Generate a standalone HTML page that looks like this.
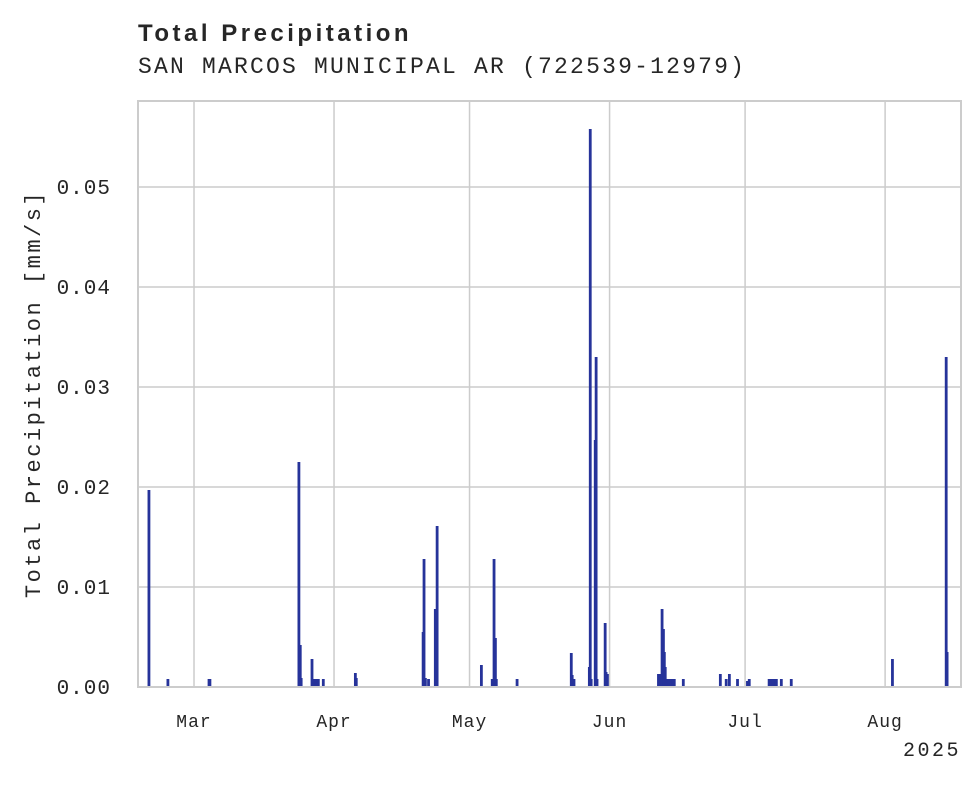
<!DOCTYPE html>
<html><head><meta charset="utf-8"><style>
body{margin:0;background:#fff;}
svg text{fill:#262626;}
</style></head><body>
<svg width="980" height="783" xmlns="http://www.w3.org/2000/svg">
<text x="138" y="41" font-family="Liberation Sans, sans-serif" font-weight="bold" font-size="24" letter-spacing="3.5">Total Precipitation</text>
<text x="138" y="73" font-family="Liberation Mono, monospace" font-size="23" letter-spacing="2.2">SAN MARCOS MUNICIPAL AR (722539-12979)</text>
<g id="grid"></g>
<g id="bars"></g>
<rect x="138" y="101" width="823" height="586" fill="none" stroke="#cccccc" stroke-width="2"/>
<g id="labels"></g>
<text transform="translate(40,394) rotate(-90)" text-anchor="middle" font-family="Liberation Mono, monospace" font-size="22" letter-spacing="2.5">Total Precipitation [mm/s]</text>
<text x="961" y="756" text-anchor="end" font-family="Liberation Mono, monospace" font-size="20" letter-spacing="2.5">2025</text>
</svg>
<script>
const yTicks=[0,0.01,0.02,0.03,0.04,0.05];
const yTickLabels=["0.00","0.01","0.02","0.03","0.04","0.05"];
const monthDays=[12.4,43.4,73.4,104.4,134.4,165.4];
const monthLabels=["Mar","Apr","May","Jun","Jul","Aug"];
const days=[2.4,6.6,15.7,15.9,35.6,35.9,36.1,38.5,38.8,39.0,39.2,39.4,39.6,39.9,41.0,48.1,48.3,63.1,63.3,63.6,64.3,65.8,66.2,76.0,78.4,78.6,78.8,79.1,79.3,83.9,95.9,96.1,96.5,99.9,100.1,100.3,101.2,101.4,101.6,103.4,103.6,103.9,115.2,115.6,116.0,116.3,116.5,116.7,116.9,117.1,117.4,117.6,117.8,118.0,118.3,118.5,118.7,120.7,128.9,130.2,130.9,132.7,134.9,135.3,139.7,140.0,140.2,140.4,140.6,140.9,141.1,141.3,142.4,144.6,167.0,178.9,179.1];
const values=[0.0197,0.0008,0.0008,0.0008,0.0225,0.0042,0.0009,0.0028,0.0008,0.0008,0.0008,0.0008,0.0008,0.0008,0.0008,0.0014,0.0009,0.0055,0.0128,0.0009,0.0008,0.0078,0.0161,0.0022,0.0008,0.0008,0.0128,0.0049,0.0008,0.0008,0.0034,0.0012,0.0008,0.0020,0.0558,0.0008,0.0247,0.0330,0.0008,0.0064,0.0015,0.0013,0.0013,0.0013,0.0078,0.0058,0.0035,0.0020,0.0008,0.0008,0.0008,0.0008,0.0008,0.0008,0.0008,0.0008,0.0008,0.0008,0.0013,0.0008,0.0013,0.0008,0.0006,0.0008,0.0008,0.0008,0.0008,0.0008,0.0008,0.0008,0.0008,0.0008,0.0008,0.0008,0.0028,0.0330,0.0035];
const NS="http://www.w3.org/2000/svg";
const X0=138,X1=961,Y0=687,Y1=101,DMAX=182.2,VMAX=0.0586;
function xs(d){return X0+d/DMAX*(X1-X0);}
function ys(v){return Y0-v/VMAX*(Y0-Y1);}
const grid=document.getElementById('grid'),bars=document.getElementById('bars'),labels=document.getElementById('labels');
function mk(tag,attrs,parent){const e=document.createElementNS(NS,tag);for(const k in attrs)e.setAttribute(k,attrs[k]);parent.appendChild(e);return e;}
yTicks.forEach((v,i)=>{
  const l=mk('line',{x1:X0,x2:X1,y1:ys(v),y2:ys(v),stroke:'#cccccc','stroke-width':1.5},grid);
  
  
  const t=mk('text',{x:111,y:ys(v)+7,'text-anchor':'end','font-family':'Liberation Mono, monospace','font-size':21,'letter-spacing':1},labels);
  t.textContent=yTickLabels[i];
  
  
});
monthDays.forEach((d,i)=>{
  const l=mk('line',{x1:xs(d),x2:xs(d),y1:Y1,y2:Y0,stroke:'#cccccc','stroke-width':1.5},grid);
  
  
  const t=mk('text',{x:xs(d),y:727,'text-anchor':'middle','font-family':'Liberation Mono, monospace','font-size':18,'letter-spacing':1},labels);
  t.textContent=monthLabels[i];
  
  
});
days.forEach((d,i)=>{
  const y=ys(values[i]);
  const r=mk('rect',{x:xs(d)-1.3,y:y,width:2.8,height:Y0-y,fill:'#26339a'},bars);
  
  
});
</script>
</body></html>
